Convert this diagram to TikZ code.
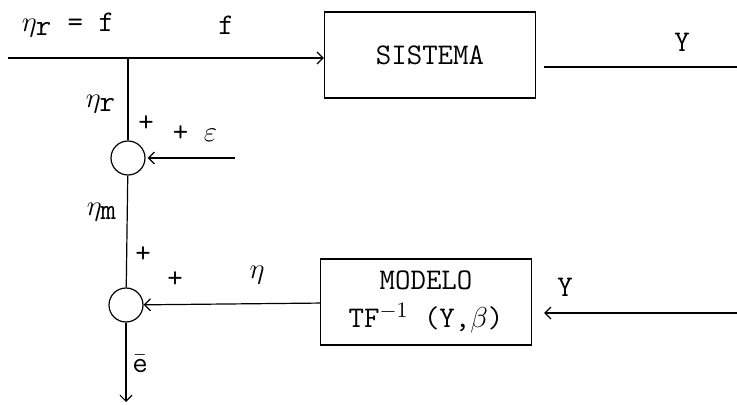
\documentclass[tikz,border=0pt]{standalone}
\usetikzlibrary{arrows.meta}
\begin{document}
\begin{tikzpicture}[x=0.5pt,y=-0.5pt,line width=0.6pt,>={Straight Barb[length=3pt,width=6pt]},
  every node/.style={font=\ttfamily\fontsize{15}{17}\selectfont}]
  \tikzstyle{blk}=[draw,minimum width=105.5pt,minimum height=43pt,align=center,inner sep=1pt]
  \tikzstyle{sum}=[draw,circle,minimum size=17pt,inner sep=0pt]
  \tikzstyle{lbl}=[inner sep=1pt]
  \useasboundingbox (0,0) rectangle (737,405);
  % blocks
  \node[blk] (sis) at (430,55) {SISTEMA};
  \node[blk] (mod) at (426,302) {MODELO\\[2pt]TF$^{-1}$ (Y,$\beta$)};
  \node[sum] (c1) at (128,158) {};
  \node[sum] (c2) at (126,305) {};
  % free ends
  \coordinate (in) at (8,58);
  \coordinate (br) at (128,58);
  \coordinate (outA) at (544,67);
  \coordinate (outB) at (737,67);
  \coordinate (eps) at (235,158);
  \coordinate (yin) at (737,313);
  \coordinate (eend) at (126,402);
  % connectors
  \draw[->] (in) -- (in -| sis.west);
  \draw (br) -- (c1);
  \draw (outA) -- (outB);
  \draw[->,shorten >=1pt] (eps) -- (c1);
  \draw (c1) -- (c2);
  \draw[->] (mod) -- (c2);
  \draw[->,shorten >=6pt] (yin) -- (yin -| mod.east);
  \draw[->] (c2) -- (eend);
  % labels
  \node[lbl] (lnrf) at (68,25) {$\eta_{\texttt{r}}$ = f};
  \node[lbl] (lf) at (226,25) {f};
  \node[lbl] (ly1) at (682,42) {Y};
  \node[lbl] (lnr) at (101,104) {$\eta_{\texttt{r}}$};
  \node[lbl] (lp1) at (146,124) {+};
  \node[lbl] (lpe) at (195,134) {+\ $\varepsilon$};
  \node[lbl] (lnm) at (102,212) {$\eta_{\texttt{m}}$};
  \node[lbl] (lp2) at (143,255) {+};
  \node[lbl] (lp3) at (175,280) {+};
  \node[lbl] (leta) at (257,275) {$\eta$};
  \node[lbl] (ly2) at (565,287) {Y};
  \node[lbl] (le) at (140,364) {$\bar{\texttt{e}}$};
\end{tikzpicture}
\end{document}
